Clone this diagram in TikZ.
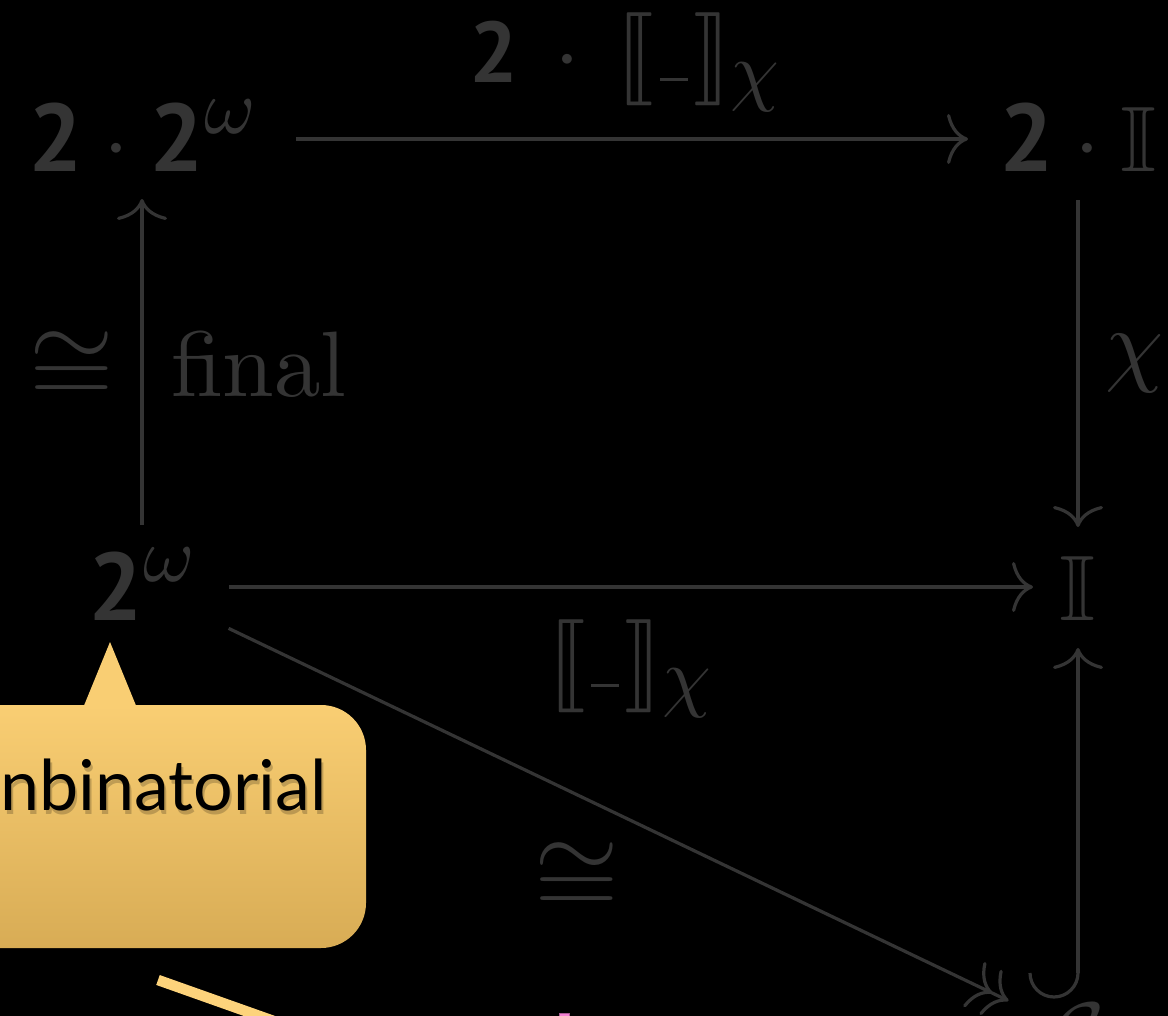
\RequirePackage{fix-cm}
\documentclass[tikz,border=0pt]{standalone}
\usepackage{amssymb}
\usepackage{stmaryrd}
\DeclareFontFamily{U}{stmry}{}
\DeclareFontShape{U}{stmry}{m}{n}{<->stmary10}{}
\DeclareFontShape{OML}{cmm}{m}{it}{<->cmmi10}{}
\DeclareFontShape{OMS}{cmsy}{m}{n}{<->cmsy10}{}
\DeclareFontShape{OT1}{cmr}{m}{n}{<->cmr10}{}
\DeclareMathSizes{93}{93}{78}{60}
\usepackage[no-math]{fontspec}
\DeclareSymbolFont{operators}{OT1}{cmr}{m}{n}
\newfontfamily\twofont{PT Sans}
\newfontfamily\callfont{Lato}
\newfontfamily\lmten{lmroman10-regular}[Extension=.otf]
\usetikzlibrary{arrows.meta,calc}
\definecolor{diag}{RGB}{52,52,52}
\definecolor{calltop}{RGB}{249,206,115}
\definecolor{callbot}{RGB}{216,172,85}
\definecolor{yline}{RGB}{253,211,123}
\definecolor{pinkc}{RGB}{243,128,210}
\newcommand\btwo[1][96]{\mbox{\fontsize{#1}{#1}\selectfont\twofont\bfseries 2}}
\newcommand\uscore{\mbox{\kern.06em\rule[0.02em]{.3em}{.035em}\kern.06em}}
\newcommand\bigcong{\scalebox{1.17}[1.05]{$\cong$}}
\begin{document}
\begin{tikzpicture}[x=1pt,y=1pt,
  obj/.style={inner sep=0pt,outer sep=0pt,text height=66pt,text depth=0pt,text=diag,font=\fontsize{93}{100}\selectfont},
  lbl/.style={inner sep=0pt,outer sep=0pt,text=diag,font=\fontsize{93}{100}\selectfont},
  mor/.style={draw=diag,line width=3.2pt,-{Computer Modern Rightarrow[length=21pt,width=50pt]}},
  epi/.style={draw=diag,line width=3.2pt,-{Computer Modern Rightarrow[length=21pt,width=50pt,sep=-3pt]Computer Modern Rightarrow[length=21pt,width=50pt]}},
  plain/.style={draw=diag,line width=3.2pt},
]
\useasboundingbox (0,0) rectangle (1168,-1016);
\clip (0,0) rectangle (1168,-1016);
\fill[black] (0,0) rectangle (1168,-1016);

% objects
\node[obj] (A) at (142,-139) {$\btwo\cdot\btwo^{\omega}$};
\node[obj] (B) at (1078,-139) {$\btwo\cdot\mathbb{I}$};
\node[obj] (C) at (142,-587) {$\btwo^{\omega}$};
\node[obj] (D) at (1078,-587) {$\mathbb{I}$};
\node[obj] (E) at (1078,-1034) {$\mathcal{C}$};

% labels
\node[lbl,anchor=base] (la) at (625,-83) {$\btwo[86]\mathbin{\,\cdot\,}\llbracket\uscore\rrbracket_{\chi}$};
\node[lbl,anchor=base] (lb) at (630,-689) {$\llbracket\uscore\rrbracket_{\chi}$};
\node[lbl,anchor=base] (lc) at (72,-402) {\bigcong};
\node[lbl,anchor=base west,font=\lmten\fontsize{93}{100}\selectfont] (ld) at (171,-396) {final};
\node[lbl,anchor=base west] (le) at (1105,-374) {$\chi$};
\node[lbl,anchor=base] (lf) at (577,-913) {\bigcong};

% morphisms
\draw[mor,shorten <=154pt,shorten >=110pt] (A.center) -- (B.center);
\draw[mor,shorten <=61pt,shorten >=60pt] (B.center) -- (D.center);
\draw[mor,shorten <=62pt,shorten >=60pt] (C.center) -- (A.center);
\draw[mor,shorten <=87pt,shorten >=45pt] (C.center) -- (D.center);
\draw[epi,shorten <=96pt,shorten >=77pt] (C.center) -- (E.center);
\coordinate (hk) at ($(E.center)+(0,61)$);
\draw[mor,shorten >=61pt] (hk) -- (D.center);
\draw[plain] (hk) arc[start angle=0,end angle=-180,radius=24];

% callout
\shade[top color=calltop,bottom color=callbot,rounded corners=45pt] (-100,-705) rectangle (366,-948);
\fill[calltop] (83,-708) -- (110,-642) -- (137,-708) -- cycle;
\node[font=\callfont\fontsize{70}{80}\selectfont,anchor=base east,inner sep=0pt,text=black,opacity=0.2] (cs) at (329,-814) {nbinatorial};
\node[font=\callfont\fontsize{70}{80}\selectfont,anchor=base east,inner sep=0pt,text=black] (ct) at (327,-810) {nbinatorial};

% other slide fragments
\draw[yline,line width=10.5pt] (158,-980) -- (330,-1041);
\fill[pinkc,draw=pinkc!70!black,line width=0.8pt] (559,-1013) rectangle (569,-1022);
\end{tikzpicture}
\end{document}
